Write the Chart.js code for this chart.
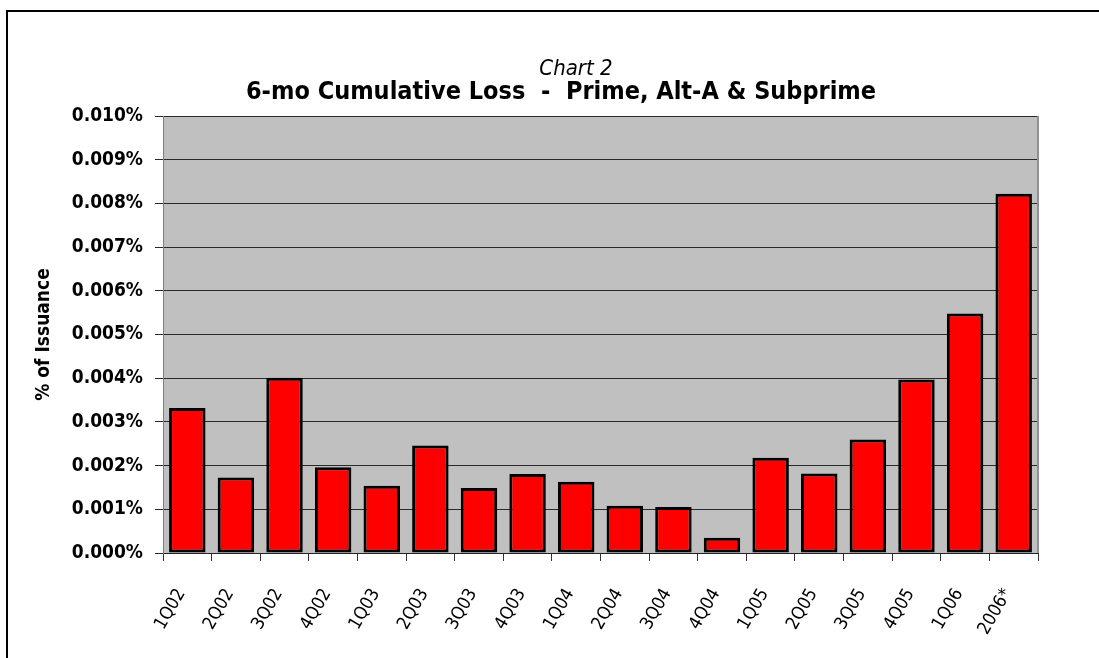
<!DOCTYPE html>
<html><head><meta charset="utf-8">
<script src="https://cdn.jsdelivr.net/npm/chart.js@4.4.1/dist/chart.umd.min.js"></script>
<style>html,body{margin:0;padding:0;background:#fff}#wrap{width:1099px;height:658px;position:relative}</style>
</head><body><div id="wrap"><canvas id="c" width="1099" height="658"></canvas></div>
<script>
// ---- data ----
const categories = ['1Q02','2Q02','3Q02','4Q02','1Q03','2Q03','3Q03','4Q03','1Q04','2Q04','3Q04','4Q04','1Q05','2Q05','3Q05','4Q05','1Q06','2006*'];
const lossPct = [0.00332,0.00173,0.00401,0.00196,0.00154,0.00246,0.00149,0.00181,0.00163,0.00108,0.00105,0.00035,0.00218,0.00182,0.00260,0.00397,0.00548,0.00822];
const yTickValues = [0,0.001,0.002,0.003,0.004,0.005,0.006,0.007,0.008,0.009,0.010];
const chartKicker = 'Chart 2';
const chartTitle = '6-mo Cumulative Loss  -  Prime, Alt-A & Subprime';
const yAxisTitle = '% of Issuance';

const COND = '"DejaVu Sans Condensed", "DejaVu Sans", sans-serif';
const NARROW = '"Liberation Sans Narrow", "DejaVu Sans Condensed", sans-serif';

const decor = {
  id: 'decor',
  beforeDraw(chart) {
    const {ctx, chartArea: a} = chart;
    ctx.save();
    ctx.fillStyle = '#fff';
    ctx.fillRect(0, 0, chart.width, chart.height);
    ctx.fillStyle = '#C0C0C0';
    ctx.fillRect(a.left, a.top, a.right - a.left, a.bottom - a.top);
    ctx.restore();
  },
  afterDraw(chart) {
    const {ctx, chartArea: a} = chart;
    ctx.save();
    ctx.strokeStyle = '#909090';
    ctx.lineWidth = 2;
    ctx.beginPath(); ctx.moveTo(a.right, a.top); ctx.lineTo(a.right, a.bottom); ctx.stroke();
    ctx.fillStyle = '#000';
    ctx.fillRect(6, 10, 2, chart.height - 10);
    ctx.fillRect(6, 10, chart.width - 6, 2);
    ctx.textAlign = 'center';
    ctx.textBaseline = 'alphabetic';
    ctx.font = 'italic 22px ' + NARROW;
    ctx.fillText(chartKicker, 576, 75);
    ctx.font = 'bold 25px ' + NARROW;
    ctx.fillText(chartTitle, 561, 99);
    ctx.restore();
  }
};

new Chart(document.getElementById('c'), {
  type: 'bar',
  data: {
    labels: categories,
    datasets: [{
      data: lossPct,
      backgroundColor: '#FF0000',
      borderColor: '#000',
      borderWidth: 3,
      borderSkipped: false,
      barPercentage: 0.75,
      categoryPercentage: 1.0
    }]
  },
  options: {
    responsive: false,
    animation: false,
    devicePixelRatio: 1,
    layout: { padding: { top: 116, right: 61, left: 0, bottom: 0 } },
    plugins: { legend: { display: false }, tooltip: { enabled: false }, title: { display: false } },
    scales: {
      x: {
        offset: true,
        grid: { offset: true, drawOnChartArea: false, drawTicks: true, tickLength: 8, color: '#333', lineWidth: 1 },
        border: { color: '#222', width: 1 },
        ticks: { minRotation: 60, maxRotation: 60, autoSkip: false, padding: 24, labelOffset: -6, color: '#000', font: { family: COND, size: 18 } },
        afterFit(s) { s.height = 658 - 553; }
      },
      y: {
        min: 0, max: 0.010,
        afterBuildTicks(s) { s.ticks = yTickValues.map(v => ({ value: v })); },
        grid: { color: '#2a2a2a', lineWidth: 1, tickLength: 8, tickColor: '#2a2a2a' },
        border: { color: '#808080', width: 1 },
        ticks: {
          padding: 12, color: '#000',
          font: { family: COND, size: 19, weight: 'bold' },
          callback: v => v.toFixed(3) + '%'
        },
        title: { display: true, text: yAxisTitle, color: '#000', font: { family: COND, size: 19, weight: 'bold' }, padding: { top: 33, bottom: 0 } },
        afterFit(s) { s.width = 163; }
      }
    }
  },
  plugins: [decor]
});
</script>
</body></html>
